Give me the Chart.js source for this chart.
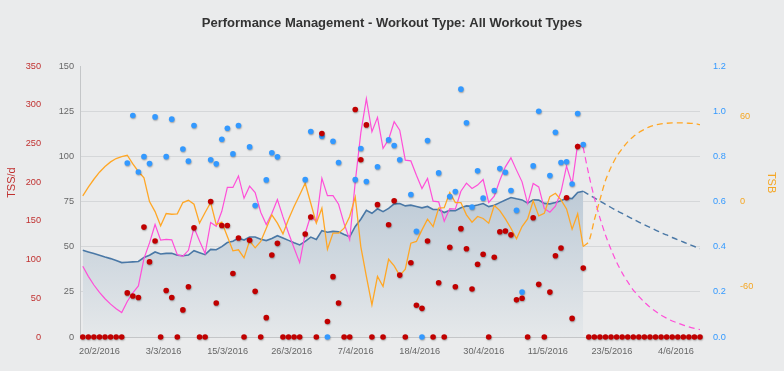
<!DOCTYPE html>
<html>
<head>
<meta charset="utf-8">
<script src="https://cdn.jsdelivr.net/npm/chart.js@4.4.1/dist/chart.umd.min.js"></script>
<style>
  html, body { margin: 0; padding: 0; background: #eaebec; }
  #pmc { display: block; }
</style>
</head>
<body>
<canvas id="pmc" width="784" height="371"></canvas>
<script>
// Day 0 is 17/2/2016, "today" is day 90, projection runs to day 111
const tickLabels = ['20/2/2016', '3/3/2016', '15/3/2016', '26/3/2016', '7/4/2016',
    '18/4/2016', '30/4/2016', '11/5/2016', '23/5/2016', '4/6/2016'];

// TSS per day (planned days after today are 0)
const tss = [
    0, 0, 0, 0, 0, 0, 0, 0,
    57, 53, 51, 142, 97, 124, 0, 60, 51, 0,
    35, 65, 141, 0, 0, 175, 44, 144, 144, 82,
    128, 0, 125, 59, 0, 25, 106, 121, 0, 0,
    0, 0, 133, 155, 0, 263, 20, 78, 44, 0,
    0, 294, 229, 274, 0, 171, 0, 145, 176, 80,
    0, 96, 41, 37, 124, 0, 70, 0, 116, 65,
    140, 114, 62, 94, 107, 0, 103, 136, 137, 132,
    48, 50, 0, 154, 68, 0, 58, 105, 115, 180,
    24, 246, 89,
    0, 0, 0, 0, 0, 0, 0, 0, 0, 0, 0, 0, 0, 0, 0, 0, 0, 0, 0, 0, 0
];

// Intensity factor per day (null = no workout)
const intensity = [
    null, null, null, null, null, null, null, null,
    .771, .981, .731, .799, .768, .975, null, .799, .965, null,
    .833, .779, .937, null, null, .785, .767, .876, .925, .811,
    .937, null, .842, .582, null, .696, .816, .798, null, null,
    null, null, .697, .910, null, .889, 0, .867, .773, null,
    null, .697, .835, .689, null, .754, null, .873, .848, .785,
    null, .631, .468, 0, .870, null, .727, null, .622, .644,
    1.098, .949, .576, .736, .615, null, .649, .746, .730, .649,
    .561, .199, null, .758, 1.0, null, .715, .907, .773, .776,
    .678, .990, .853
];

// Fitness (CTL)
const ctl = [
    48.0, 47.1, 46.2, 45.3, 44.3, 43.4, 42.3, 41.2, 41.4, 41.6,
    41.8, 44.0, 45.3, 47.1, 46.0, 46.3, 46.4, 45.3, 45.0, 45.4,
    47.8, 46.7, 45.6, 48.5, 48.3, 50.0, 52.3, 53.0, 54.8, 53.7,
    55.4, 55.4, 54.1, 53.4, 54.5, 56.1, 54.8, 53.5, 52.2, 51.0,
    52.9, 55.3, 54.0, 58.9, 58.0, 58.5, 58.2, 56.8, 55.5, 61.2,
    65.2, 70.2, 68.5, 71.0, 69.4, 71.2, 73.7, 73.9, 72.6, 73.0,
    72.3, 71.5, 72.3, 70.6, 70.6, 68.9, 70.1, 69.9, 71.6, 72.6,
    72.4, 73.1, 73.9, 72.2, 72.9, 74.4, 75.9, 77.2, 76.5, 75.9,
    74.1, 76.0, 75.8, 74.0, 73.7, 74.5, 75.5, 76.9, 76.6, 80.0,
    80.7
];

// Fatigue (ATL)
const atl = [
    39.2, 33.6, 28.8, 24.7, 21.2, 18.2, 15.6, 13.5, 19.7, 24.5,
    28.3, 43.4, 52.1, 62.3, 53.6, 54.1, 53.8, 45.6, 44.7, 48.0,
    60.6, 53.2, 46.2, 63.4, 61.3, 69.6, 82.8, 82.8, 89.2, 76.8,
    83.5, 80.0, 69.1, 62.3, 68.4, 76.1, 66.5, 57.6, 49.3, 41.2,
    57.3, 67.4, 63.7, 87.9, 78.3, 78.3, 73.5, 62.8, 53.9, 85.9,
    113.0, 132.0, 113.6, 121.6, 104.4, 109.4, 119.2, 114.5, 97.9, 97.5,
    89.6, 82.2, 87.8, 75.2, 74.8, 64.1, 71.1, 70.8, 80.7, 85.2,
    82.2, 84.1, 87.2, 74.5, 78.0, 86.8, 94.2, 99.2, 92.4, 85.9,
    73.9, 85.0, 83.1, 71.1, 69.1, 72.4, 80.4, 94.6, 84.6, 106.8,
    104.9
];

// Form (TSB)
const tsb = [
    4.0, 10.2, 15.8, 20.8, 24.8, 28.1, 30.5, 31.9, 32.8, 26.7,
    21.3, 16.8, 0.0, -7.1, -17.2, -8.5, -9.0, -8.7, -0.7, 0.9,
    -1.9, -15.3, -7.8, -0.7, -16.3, -14.6, -24.8, -34.9, -34.2, -39.9,
    -27.9, -32.8, -28.3, -18.9, -9.4, -15.3, -22.9, -12.5, -3.5, 4.7,
    13.0, -1.2, -15.3, -4.7, -33.8, -22.4, -22.4, -18.9, -10.6, 3.1,
    -31.9, -53.1, -73.2, -53.1, -60.2, -40.9, -45.6, -52.5, -47.9, -29.5,
    -28.3, -20.1, -12.5, -17.7, -4.7, -4.3, 6.4, -0.7, -0.7, -9.4,
    -14.6, -10.6, -12.0, -15.3, -2.8, -6.4, -12.3, -18.9, -26.4, -17.7,
    -12.3, 0.5, -10.2, -8.3, 3.5, 5.9, 1.2, -5.2, -19.6, -8.7,
    -31.9
];

// Projections from today onwards
const ctlFuture = [80.7, 78.8, 77.0, 75.2, 73.4, 71.7, 70.0, 68.4, 66.8, 65.2, 63.6,
    62.1, 60.7, 59.2, 57.8, 56.5, 55.1, 53.8, 52.6, 51.3, 50.1, 48.9];
const atlFuture = [104.9, 90.0, 77.0, 66.0, 56.5, 48.5, 41.5, 35.5, 30.5, 26.0, 22.5,
    19.3, 16.5, 14.2, 12.1, 10.4, 8.9, 7.7, 6.6, 5.6, 4.8, 4.1];
const tsbFuture = [-31.9, -28.3, -13.0, 1.2, 14.9, 24.3, 31.9, 37.5, 42.3, 46.0, 48.9,
    51.2, 53.1, 54.3, 55.0, 55.5, 55.7, 55.7, 55.7, 55.5, 55.3, 54.5];

const today = ctl.length - 1;
const firstTickDay = 3;
const tickStepDays = 11.52;

function toPoints(arr, start) {
    const pts = [];
    arr.forEach((v, i) => {
        if (v !== null) pts.push({ x: i + start, y: v });
    });
    return pts;
}

Chart.defaults.font.family = "'Liberation Sans', Arial, sans-serif";

// Plain grey page behind the chart
const background = {
    id: 'background',
    beforeDraw(chart) {
        const c = chart.ctx;
        c.save();
        c.fillStyle = '#eaebec';
        c.fillRect(0, 0, chart.width, chart.height);
        c.restore();
    }
};

// Soft shadow under the workout markers
const dotShadow = {
    id: 'dotShadow',
    beforeDatasetDraw(chart, args) {
        if (args.meta.type !== 'scatter') return;
        const c = chart.ctx;
        c.save();
        c.shadowColor = 'rgba(0,0,0,0.3)';
        c.shadowOffsetX = 0.5;
        c.shadowOffsetY = 1;
        c.shadowBlur = 1.5;
    },
    afterDatasetDraw(chart, args) {
        if (args.meta.type === 'scatter') chart.ctx.restore();
    }
};

// Rotated axis titles, sitting a bit above the middle like the original
const axisTitles = {
    id: 'axisTitles',
    afterDraw(chart) {
        const c = chart.ctx;
        const area = chart.chartArea;
        const midY = area.top + (area.bottom - area.top) * 0.43;
        c.save();
        c.font = "11px 'Liberation Sans', Arial, sans-serif";
        c.textAlign = 'center';
        c.textBaseline = 'middle';

        c.save();
        c.translate(chart.scales.yTSS.left + 12, midY);
        c.rotate(-Math.PI / 2);
        c.fillStyle = '#c0302f';
        c.fillText('TSS/d', 0, 0);
        c.restore();

        c.save();
        c.translate(chart.scales.yTSB.right - 13, midY);
        c.rotate(Math.PI / 2);
        c.fillStyle = '#f5a623';
        c.fillText('TSB', 0, 0);
        c.restore();

        c.restore();
    }
};

function fitnessFill(context) {
    const { ctx, chartArea } = context.chart;
    if (!chartArea) return 'rgba(190,203,215,0.8)';
    const top = chartArea.top + chartArea.height * 0.42;
    const g = ctx.createLinearGradient(0, top, 0, chartArea.bottom);
    g.addColorStop(0, '#bac8d5');
    g.addColorStop(1, '#e5e8ea');
    return g;
}

const ctx = document.getElementById('pmc');

new Chart(ctx, {
    type: 'line',
    data: {
        datasets: [
            {
                type: 'scatter',
                data: toPoints(tss, 0),
                yAxisID: 'yTSS',
                pointRadius: 2.8,
                pointBackgroundColor: '#c00000',
                pointBorderWidth: 0,
                clip: false,
                order: 0
            },
            {
                type: 'scatter',
                data: toPoints(intensity, 0),
                yAxisID: 'yIF',
                pointRadius: 2.8,
                pointBackgroundColor: '#3399ff',
                pointBorderWidth: 0,
                clip: false,
                order: 1
            },
            {
                data: toPoints(tsb, 0),
                yAxisID: 'yTSB',
                borderColor: '#ffa726',
                borderWidth: 1.3,
                pointRadius: 0,
                tension: 0,
                order: 2
            },
            {
                data: toPoints(tsbFuture, today),
                yAxisID: 'yTSB',
                borderColor: '#ffa726',
                borderWidth: 1.3,
                borderDash: [6, 4],
                pointRadius: 0,
                tension: 0.3,
                order: 2
            },
            {
                data: toPoints(atl, 0),
                yAxisID: 'y',
                borderColor: '#ff4fd8',
                borderWidth: 1.2,
                pointRadius: 0,
                tension: 0,
                order: 3
            },
            {
                data: toPoints(atlFuture, today),
                yAxisID: 'y',
                borderColor: '#ff4fd8',
                borderWidth: 1.2,
                borderDash: [6, 4],
                pointRadius: 0,
                tension: 0.3,
                order: 3
            },
            {
                data: toPoints(ctlFuture, today),
                yAxisID: 'y',
                borderColor: '#4a78a6',
                borderWidth: 1.4,
                borderDash: [6, 4],
                pointRadius: 0,
                tension: 0.3,
                order: 4
            },
            {
                data: toPoints(ctl, 0),
                yAxisID: 'y',
                borderColor: '#4a78a6',
                borderWidth: 1.6,
                pointRadius: 0,
                tension: 0,
                fill: 'origin',
                backgroundColor: fitnessFill,
                order: 5
            }
        ]
    },
    options: {
        responsive: false,
        animation: false,
        devicePixelRatio: 1,
        layout: { padding: 0 },
        plugins: {
            legend: { display: false },
            tooltip: { enabled: false },
            title: {
                display: true,
                text: 'Performance Management - Workout Type: All Workout Types',
                color: '#333',
                font: { size: 13, weight: 'bold' },
                padding: { top: 16, bottom: 34.5 }
            }
        },
        scales: {
            x: {
                type: 'linear',
                min: -0.5,
                max: 111,
                grid: { display: false, drawTicks: false },
                border: { color: '#c4c6c8' },
                ticks: {
                    autoSkip: false,
                    maxRotation: 0,
                    padding: 9,
                    color: '#666',
                    font: { size: 9.2 },
                    callback: (v, i) => tickLabels[i]
                },
                afterBuildTicks: scale => {
                    scale.ticks = tickLabels.map((l, i) => ({ value: firstTickDay + i * tickStepDays }));
                },
                afterFit: scale => { scale.height = 34; }
            },
            y: {
                position: 'left',
                weight: 0,
                min: 0,
                max: 150,
                grid: {
                    drawTicks: false,
                    color: c => (c.tick.value === 0 || c.tick.value === 150) ? 'rgba(0,0,0,0)' : '#d5d7d9'
                },
                border: { color: '#c4c6c8' },
                ticks: { stepSize: 25, padding: 6, color: '#666', font: { size: 9.2 } },
                afterFit: scale => { scale.width = 32; }
            },
            yTSS: {
                position: 'left',
                weight: 1,
                min: 0,
                max: 350,
                grid: { display: false, drawTicks: false },
                border: { display: false },
                ticks: { stepSize: 50, padding: 7, color: '#c0302f', font: { size: 9.2 } },
                afterFit: scale => { scale.width = 48; }
            },
            yIF: {
                position: 'right',
                weight: 0,
                min: 0,
                max: 1.2,
                grid: { display: false, drawTicks: false },
                border: { display: false },
                ticks: {
                    stepSize: 0.2,
                    padding: 13,
                    color: '#3399ff',
                    font: { size: 9.2 },
                    callback: v => v.toFixed(1)
                },
                afterFit: scale => { scale.width = 37; }
            },
            yTSB: {
                position: 'right',
                weight: 1,
                min: -96,
                max: 96,
                grid: { display: false, drawTicks: false },
                border: { display: false },
                ticks: { padding: 3, color: '#f5a623', font: { size: 9.2 } },
                afterBuildTicks: scale => {
                    scale.ticks = [{ value: -60 }, { value: 0 }, { value: 60 }];
                },
                afterFit: scale => { scale.width = 47; }
            }
        }
    },
    plugins: [background, dotShadow, axisTitles]
});
</script>
</body>
</html>
